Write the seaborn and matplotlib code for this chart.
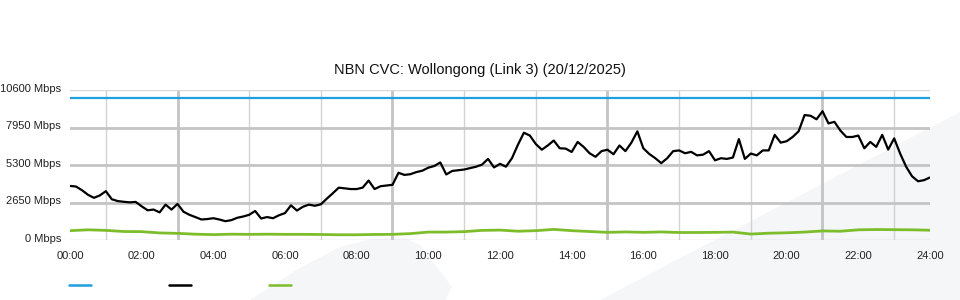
import numpy as np
import pandas as pd
import matplotlib
matplotlib.use("Agg")
import matplotlib.pyplot as plt
import matplotlib.transforms as mtransforms
from matplotlib.patches import Polygon
from matplotlib.lines import Line2D
import seaborn as sns

# ---------------- data ----------------
title = "NBN CVC: Wollongong (Link 3) (20/12/2025)"
y_ticks = [0, 2650, 5300, 7950, 10600]
y_tick_labels = ["0 Mbps", "2650 Mbps", "5300 Mbps", "7950 Mbps", "10600 Mbps"]
x_ticks = list(range(0, 25, 2))
x_tick_labels = ["%02d:00" % h for h in x_ticks]

capacity_mbps = 10000  # blue line

# black series, 10-minute samples from 00:00 to 24:00
traffic_hours = [h + k / 6 for h in range(24) for k in range(6)] + [24.0]
traffic_mbps = [
    3820, 3780, 3520, 3200, 2980, 3150,
    3450, 2880, 2750, 2700, 2660, 2690,
    2380, 2100, 2150, 1950, 2500, 2150,
    2550, 2000, 1780, 1620, 1450, 1480,
    1540, 1450, 1330, 1400, 1570, 1660,
    1780, 2050, 1520, 1620, 1540, 1750,
    1900, 2450, 2080, 2350, 2500, 2420,
    2520, 2920, 3300, 3700, 3650, 3600,
    3600, 3700, 4200, 3600, 3800, 3850,
    3900, 4750, 4600, 4650, 4800, 4900,
    5110, 5230, 5480, 4630, 4880, 4930,
    4980, 5080, 5180, 5330, 5730, 5130,
    5380, 5180, 5780, 6730, 7580, 7380,
    6780, 6380, 6680, 7030, 6480, 6460,
    6220, 6930, 6580, 6130, 5880, 6280,
    6380, 6060, 6680, 6280, 6880, 7680,
    6480, 6080, 5780, 5430, 5780, 6280,
    6330, 6130, 6230, 5980, 6030, 6280,
    5630, 5780, 5730, 5830, 7130, 5730,
    6110, 5980, 6330, 6330, 7430, 6880,
    6980, 7280, 7680, 8830, 8780, 8530,
    9100, 8240, 8350, 7730, 7280, 7280,
    7380, 6480, 6930, 6580, 7430, 6390,
    7180, 6110, 5180, 4500, 4150, 4230,
    4420,
]

# green series, 30-minute samples
low_hours = [h / 2 for h in range(49)]
low_mbps = [
    660, 720, 680, 600, 590, 500, 470, 410, 380, 410,
    400, 410, 400, 400, 390, 370, 370, 390, 400, 450,
    560, 560, 590, 680, 700, 620, 660, 750, 660, 600,
    540, 570, 540, 570, 530, 530, 540, 560, 420, 480,
    510, 560, 640, 620, 720, 740, 730, 720, 690,
]

blue = "#1ea0e0"
green = "#7dbd2b"

# ---------------- figure ----------------
sns.set_theme(style="white")
plt.rcParams["font.family"] = ["Liberation Sans", "DejaVu Sans"]

fig = plt.figure(figsize=(9.6, 3.0), dpi=100)
fig.patch.set_facecolor("white")

# watermark shapes (figure fraction coords from pixel coords)
def fpoly(pts, **kw):
    return Polygon([(x / 960, 1 - y / 300) for x, y in pts], closed=True,
                   transform=fig.transFigure, **kw)

wm = "#f5f6f8"
fig.patches.append(fpoly([(250, 300), (300, 268), (340, 247), (372, 239),
                          (405, 238), (420, 245), (452, 287), (445, 300)],
                         facecolor=wm, edgecolor="none", zorder=-5))
fig.patches.append(fpoly([(600, 300), (960, 112), (960, 300)],
                         facecolor=wm, edgecolor="none", zorder=-5))

ax = fig.add_axes([70 / 960, 1 - 240 / 300, 860 / 960, 150 / 300])
ax.set_facecolor("none")
ax.set_zorder(2)

df_t = pd.DataFrame({"hour": traffic_hours, "mbps": traffic_mbps})
df_l = pd.DataFrame({"hour": low_hours, "mbps": low_mbps})
df_c = pd.DataFrame({"hour": [0, 24], "mbps": [capacity_mbps, capacity_mbps]})

sns.lineplot(data=df_c, x="hour", y="mbps", ax=ax, color=blue, linewidth=1.6, zorder=3)
sns.lineplot(data=df_l, x="hour", y="mbps", ax=ax, color=green, linewidth=2.0, zorder=3)
sns.lineplot(data=df_t, x="hour", y="mbps", ax=ax, color="black", linewidth=1.6, zorder=4)

ax.set_xlim(0, 24)
ax.set_ylim(0, 10600)
ax.set_xlabel("")
ax.set_ylabel("")

ax.set_xticks(x_ticks)
ax.set_xticklabels(x_tick_labels)
ax.set_xticks(range(0, 25), minor=True)
ax.set_yticks(y_ticks)
ax.set_yticklabels(y_tick_labels)
ax.tick_params(axis="both", which="both", length=0, labelsize=8, colors="#222222")
ax.tick_params(axis="x", pad=8)
ax.tick_params(axis="y", pad=6.5)
shift_up = mtransforms.ScaledTranslation(0, 1.5 / 100, fig.dpi_scale_trans)
for lab in ax.get_yticklabels():
    lab.set_verticalalignment("center")
    lab.set_transform(lab.get_transform() + shift_up)

# grid
ax.grid(False)
ax.grid(axis="x", which="minor", color="#d2d2d2", linewidth=1.0, zorder=1)
for h in [3, 9, 15, 21]:
    ax.axvline(h, color="#c4c4c4", linewidth=2.0, zorder=1)
for v in [2650, 5300, 7950]:
    ax.axhline(v, color="#c4c4c4", linewidth=2.0, zorder=1)
ax.axhline(10600, color="#d8d8d8", linewidth=1.0, zorder=1)
ax.axhline(0, color="#d2d2d2", linewidth=1.0, zorder=1)

for s in ax.spines.values():
    s.set_visible(False)

fig.text(0.5, 1 - 70 / 300, title, ha="center", va="center",
         fontsize=10.5, color="#111111")

# legend swatches (no labels)
for x0, c in [(69, blue), (169, "black"), (269, green)]:
    fig.add_artist(Line2D([x0 / 960, (x0 + 22) / 960], [1 - 285 / 300] * 2,
                          color=c, linewidth=1.8, transform=fig.transFigure))

fig.savefig("out.png", dpi=100, facecolor="white")
